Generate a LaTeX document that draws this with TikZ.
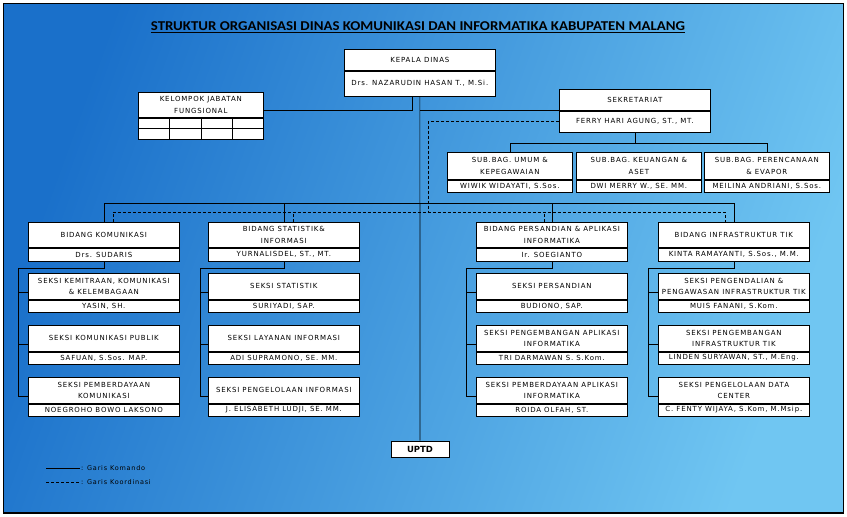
\documentclass[tikz,border=0pt]{standalone}
\usepackage{fontspec}
\usetikzlibrary{positioning,calc}
\newfontfamily\boxfont[LetterSpace=12]{DejaVu Sans}
\newfontfamily\plainfont{DejaVu Sans}
\newfontfamily\titlefont{Carlito}
\definecolor{dinasdeep}{HTML}{1A70CA}
\definecolor{dinasmid}{HTML}{389BDF}
\definecolor{dinassky}{HTML}{70C6F2}

\begin{document}
\begin{tikzpicture}[x=1pt,y=-1pt,
  unit/.style={draw,fill=white,line width=0.7pt,inner sep=1pt,minimum width=151pt,minimum height=26pt,anchor=north west,align=center,font=\boxfont\fontsize{7}{11.5}\selectfont},
  nama/.style={draw,fill=white,line width=0.7pt,inner sep=0pt,minimum width=151pt,minimum height=12pt,font=\boxfont\fontsize{7}{8}\selectfont},
  cell/.style={draw,fill=white,line width=0.7pt,inner sep=0pt,minimum width=31.25pt,minimum height=10.5pt,anchor=north west},
  uptdbox/.style={draw,fill=white,line width=0.7pt,minimum width=58pt,minimum height=16pt,font=\plainfont\bfseries\fontsize{8.5}{10}\selectfont},
  legend/.style={inner sep=1pt,anchor=west,font=\boxfont\fontsize{6.5}{8}\selectfont},
  cmd/.style={line width=0.7pt},
  koord/.style={line width=0.7pt,dash pattern=on 3pt off 2pt}
]
\useasboundingbox (0,0) rectangle (847,517);
\shade[left color=dinasdeep,middle color=dinasmid,right color=dinassky,shading angle=70] (3,3) rectangle (843,513);
\draw[line width=0.8pt] (3,3) rectangle (843,513);
\draw[line width=2pt] (3,513) -- (843,513);

\node[font=\titlefont\bfseries\fontsize{13.5}{15}\selectfont] (judul) at (418,27) {\scalebox{1.1}[1]{\underline{STRUKTUR ORGANISASI DINAS KOMUNIKASI DAN INFORMATIKA KABUPATEN MALANG}}};

% pimpinan
\node[unit,minimum height=21pt] (kadis) at (344,49) {KEPALA DINAS};
\node[nama,minimum height=25pt,below=0pt of kadis] (kadis-n) {Drs. NAZARUDIN HASAN T., M.Si.};
\node[unit,minimum width=125pt,minimum height=25pt] (jaf) at (138,92) {KELOMPOK JABATAN\\FUNGSIONAL};
\foreach \i in {0,...,3}
  \foreach \j in {0,1}
    \node[cell] (jaf-\i\j) at ($(jaf.south west)+(31.25*\i,10.5*\j)$) {};
\node[unit,minimum height=21pt] (sekre) at (559,89) {SEKRETARIAT};
\node[nama,minimum height=21pt,below=0pt of sekre] (sekre-n) {FERRY HARI AGUNG, ST., MT.};

% sub bagian
\node[unit,minimum width=125pt,minimum height=27pt] (umum) at (447,152) {SUB.BAG. UMUM \&\\KEPEGAWAIAN};
\node[nama,minimum width=125pt,below=0pt of umum] (umum-n) {WIWIK WIDAYATI, S.Sos.};
\node[unit,minimum width=125pt,minimum height=27pt] (keu) at (576,152) {SUB.BAG. KEUANGAN \&\\ASET};
\node[nama,minimum width=125pt,below=0pt of keu] (keu-n) {DWI MERRY W., SE. MM.};
\node[unit,minimum width=125pt,minimum height=27pt] (renc) at (704,152) {SUB.BAG. PERENCANAAN\\\& EVAPOR};
\node[nama,minimum width=125pt,below=0pt of renc] (renc-n) {MEILINA ANDRIANI, S.Sos.};

% bidang
\node[unit,minimum height=25pt] (bkom) at (28,222) {BIDANG KOMUNIKASI};
\node[nama,minimum height=13pt,below=0pt of bkom] (bkom-n) {Drs. SUDARIS};
\node[unit,minimum height=25pt] (bstat) at (208,222) {BIDANG STATISTIK\&\\INFORMASI};
\node[nama,minimum height=13pt,below=0pt of bstat] (bstat-n) {YURNALISDEL, ST., MT.};
\node[unit,minimum height=25pt] (bsan) at (476,222) {BIDANG PERSANDIAN \& APLIKASI\\INFORMATIKA};
\node[nama,minimum height=13pt,below=0pt of bsan] (bsan-n) {Ir. SOEGIANTO};
\node[unit,minimum height=25pt] (binf) at (658,222) {BIDANG INFRASTRUKTUR TIK};
\node[nama,minimum height=13pt,below=0pt of binf] (binf-n) {KINTA RAMAYANTI, S.Sos., M.M.};

% seksi
\node[unit] (kem) at (28,273) {SEKSI KEMITRAAN, KOMUNIKASI\\\& KELEMBAGAAN};
\node[nama,below=0pt of kem] (kem-n) {YASIN, SH.};
\node[unit] (pub) at (28,325) {SEKSI KOMUNIKASI PUBLIK};
\node[nama,below=0pt of pub] (pub-n) {SAFUAN, S.Sos. MAP.};
\node[unit] (pkom) at (28,377) {SEKSI PEMBERDAYAAN\\KOMUNIKASI};
\node[nama,below=0pt of pkom] (pkom-n) {NOEGROHO BOWO LAKSONO};

\node[unit] (stat) at (208,273) {SEKSI STATISTIK};
\node[nama,below=0pt of stat] (stat-n) {SURIYADI, SAP.};
\node[unit] (lay) at (208,325) {SEKSI LAYANAN INFORMASI};
\node[nama,below=0pt of lay] (lay-n) {ADI SUPRAMONO, SE. MM.};
\node[unit] (pinf) at (208,377) {SEKSI PENGELOLAAN INFORMASI};
\node[nama,below=0pt of pinf] (pinf-n) {J. ELISABETH LUDJI, SE. MM.};

\node[unit] (sand) at (476,273) {SEKSI PERSANDIAN};
\node[nama,below=0pt of sand] (sand-n) {BUDIONO, SAP.};
\node[unit] (apl) at (476,325) {SEKSI PENGEMBANGAN APLIKASI\\INFORMATIKA};
\node[nama,below=0pt of apl] (apl-n) {TRI DARMAWAN S. S.Kom.};
\node[unit] (papl) at (476,377) {SEKSI PEMBERDAYAAN APLIKASI\\INFORMATIKA};
\node[nama,below=0pt of papl] (papl-n) {ROIDA OLFAH, ST.};

\node[unit] (dal) at (658,273) {SEKSI PENGENDALIAN \&\\PENGAWASAN INFRASTRUKTUR TIK};
\node[nama,below=0pt of dal] (dal-n) {MUIS FANANI, S.Kom.};
\node[unit] (bang) at (658,325) {SEKSI PENGEMBANGAN\\INFRASTRUKTUR TIK};
\node[nama,below=0pt of bang] (bang-n) {LINDEN SURYAWAN, ST., M.Eng.};
\node[unit] (data) at (658,377) {SEKSI PENGELOLAAN DATA\\CENTER};
\node[nama,below=0pt of data] (data-n) {C. FENTY WIJAYA, S.Kom, M.Msip.};

\node[uptdbox] (uptd) at (420,449) {UPTD};

% garis komando
\draw[cmd] (kadis-n.south) -- (uptd.north);
\draw[cmd] ([xshift=-7.5pt]kadis-n.south) |- ([yshift=-5.5pt]jaf.east);
\draw[cmd] (sekre.south west) -- (sekre.south west -| kadis-n.south);
\draw[cmd] (sekre-n.south) -- ++(0,12);
\draw[cmd] (umum.north) -- ++(0,-9) -| (renc.north);
\draw[cmd] (bkom.north) -- ++(0,-19) -| (binf.north);
\draw[cmd] (bstat.north) -- ++(0,-19);
\draw[cmd] (bsan.north) -- ++(0,-19);

\draw[cmd] (bkom-n.south) -- ++(0,7) -| ([xshift=-10pt,yshift=7pt]pkom.south west) -- ([yshift=7pt]pkom.south west);
\draw[cmd] ([yshift=7pt]kem.south west) -- ++(-10,0);
\draw[cmd] ([yshift=7pt]pub.south west) -- ++(-10,0);
\draw[cmd] (bstat-n.south) -- ++(0,7) -| ([xshift=-8pt,yshift=7pt]pinf.south west) -- ([yshift=7pt]pinf.south west);
\draw[cmd] ([yshift=7pt]stat.south west) -- ++(-8,0);
\draw[cmd] ([yshift=7pt]lay.south west) -- ++(-8,0);
\draw[cmd] (bsan-n.south) -- ++(0,7) -| ([xshift=-10pt,yshift=7pt]papl.south west) -- ([yshift=7pt]papl.south west);
\draw[cmd] ([yshift=7pt]sand.south west) -- ++(-10,0);
\draw[cmd] ([yshift=7pt]apl.south west) -- ++(-10,0);
\draw[cmd] (binf-n.south) -- ++(0,7) -| ([xshift=-10pt,yshift=7pt]data.south west) -- ([yshift=7pt]data.south west);
\draw[cmd] ([yshift=7pt]dal.south west) -- ++(-10,0);
\draw[cmd] ([yshift=7pt]bang.south west) -- ++(-10,0);

% garis koordinasi
\coordinate (kbus) at (428,212);
\draw[koord] (sekre-n.west) -| (kbus);
\draw[koord] ([xshift=9pt]bkom.north) -- ++(0,-10) -| ([xshift=-9pt]binf.north);
\draw[koord] ([xshift=9pt]bstat.north) -- ++(0,-10);
\draw[koord] ([xshift=-8pt]bsan.north) -- ++(0,-10);

% keterangan
\node[legend] (lkom) at (80,468) {: Garis Komando};
\node[legend] (lkoor) at (80,482) {: Garis Koordinasi};
\coordinate (lk1) at (46,468);
\coordinate (lk2) at (46,482);
\draw[cmd] (lk1) -- (lkom.west);
\draw[koord] (lk2) -- (lkoor.west);
\end{tikzpicture}
\end{document}
